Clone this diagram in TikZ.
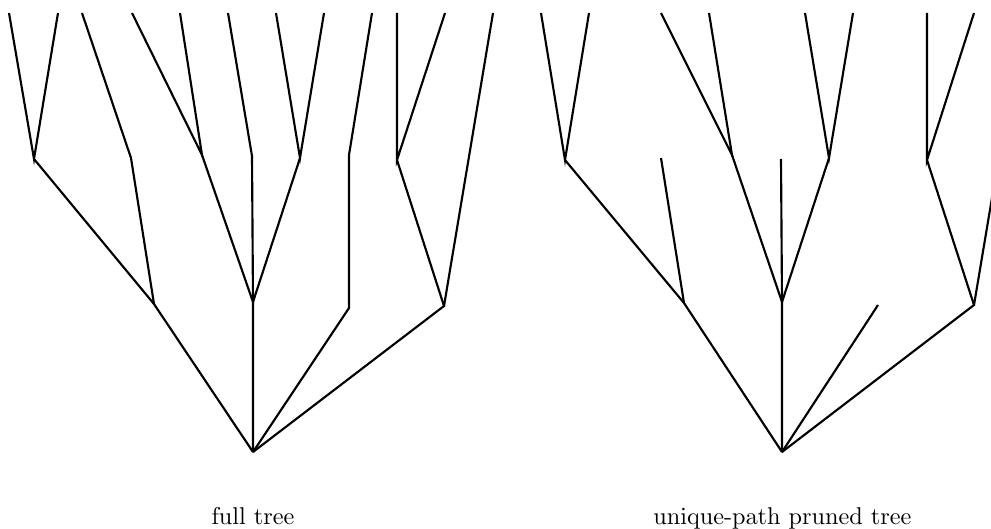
\documentclass[tikz,border=0pt]{standalone}
\font\capfnt=cmr10 at 18.2pt
\begin{document}
\begin{tikzpicture}[x=0.75pt,y=-0.75pt,
  branch/.style={line width=1.6pt,line join=miter,line cap=butt},
  caption/.style={anchor=base,inner sep=0pt,font=\capfnt}]
\useasboundingbox (0,0) rectangle (991,528);
\clip (0,0) rectangle (991,528);
% ---------- full tree ----------
\coordinate (R) at (253,452);
\coordinate (A) at (154,304);
\coordinate (B) at (253,302);
\coordinate (C) at (349,308);
\coordinate (D) at (444,306);
\coordinate (A1) at (34,159);
\coordinate (A2) at (131,158);
\coordinate (B1) at (202,155);
\coordinate (B2) at (252,156);
\coordinate (B3) at (300,158);
\coordinate (C1) at (349,155);
\coordinate (D1) at (397,160);
\coordinate (a11) at (9,13);
\coordinate (a12) at (58,13);
\coordinate (a21) at (82,13);
\coordinate (b11) at (132,13);
\coordinate (b12) at (180,13);
\coordinate (b21) at (228,13);
\coordinate (b31) at (276,13);
\coordinate (b32) at (324,13);
\coordinate (c11) at (372,13);
\coordinate (d11) at (397,13);
\coordinate (d12) at (445,13);
\coordinate (d2) at (493,13);
\draw[branch] (a11) -- (A1) -- (a12);
\draw[branch] (A1) -- (A) -- (R);
\draw[branch] (a21) -- (A2) -- (A);
\draw[branch] (b11) -- (B1) -- (b12);
\draw[branch] (B1) -- (B) -- (R);
\draw[branch] (b21) -- (B2) -- (B);
\draw[branch] (b31) -- (B3) -- (b32);
\draw[branch] (B3) -- (B);
\draw[branch] (c11) -- (C1) -- (C) -- (R);
\draw[branch] (d11) -- (D1) -- (d12);
\draw[branch] (D1) -- (D) -- (R);
\draw[branch] (d2) -- (D);
\node[caption] (cap1) at (253,524) {full tree};
% ---------- unique-path pruned tree ----------
\coordinate (Rp) at (782,452);
\coordinate (Ap) at (684,303);
\coordinate (Bp) at (782,302);
\coordinate (Cp) at (878,305);
\coordinate (Dp) at (974,305);
\coordinate (A1p) at (565,160);
\coordinate (A2p) at (661,158);
\coordinate (B1p) at (732,155);
\coordinate (B2p) at (781,159);
\coordinate (B3p) at (829,158);
\coordinate (D1p) at (927,160);
\coordinate (a11p) at (541,13);
\coordinate (a12p) at (589,13);
\coordinate (b11p) at (661,13);
\coordinate (b12p) at (709,13);
\coordinate (b31p) at (805,13);
\coordinate (b32p) at (853,13);
\coordinate (d11p) at (927,13);
\coordinate (d12p) at (974,13);
\coordinate (d2p) at (1023,13);
\draw[branch] (a11p) -- (A1p) -- (a12p);
\draw[branch] (A1p) -- (Ap) -- (Rp);
\draw[branch] (A2p) -- (Ap);
\draw[branch] (b11p) -- (B1p) -- (b12p);
\draw[branch] (B1p) -- (Bp) -- (Rp);
\draw[branch] (B2p) -- (Bp);
\draw[branch] (b31p) -- (B3p) -- (b32p);
\draw[branch] (B3p) -- (Bp);
\draw[branch] (Cp) -- (Rp);
\draw[branch] (d11p) -- (D1p) -- (d12p);
\draw[branch] (D1p) -- (Dp) -- (Rp);
\draw[branch] (d2p) -- (Dp);
\node[caption] (cap2) at (782.5,524) {unique-path pruned tree};
\end{tikzpicture}
\end{document}
